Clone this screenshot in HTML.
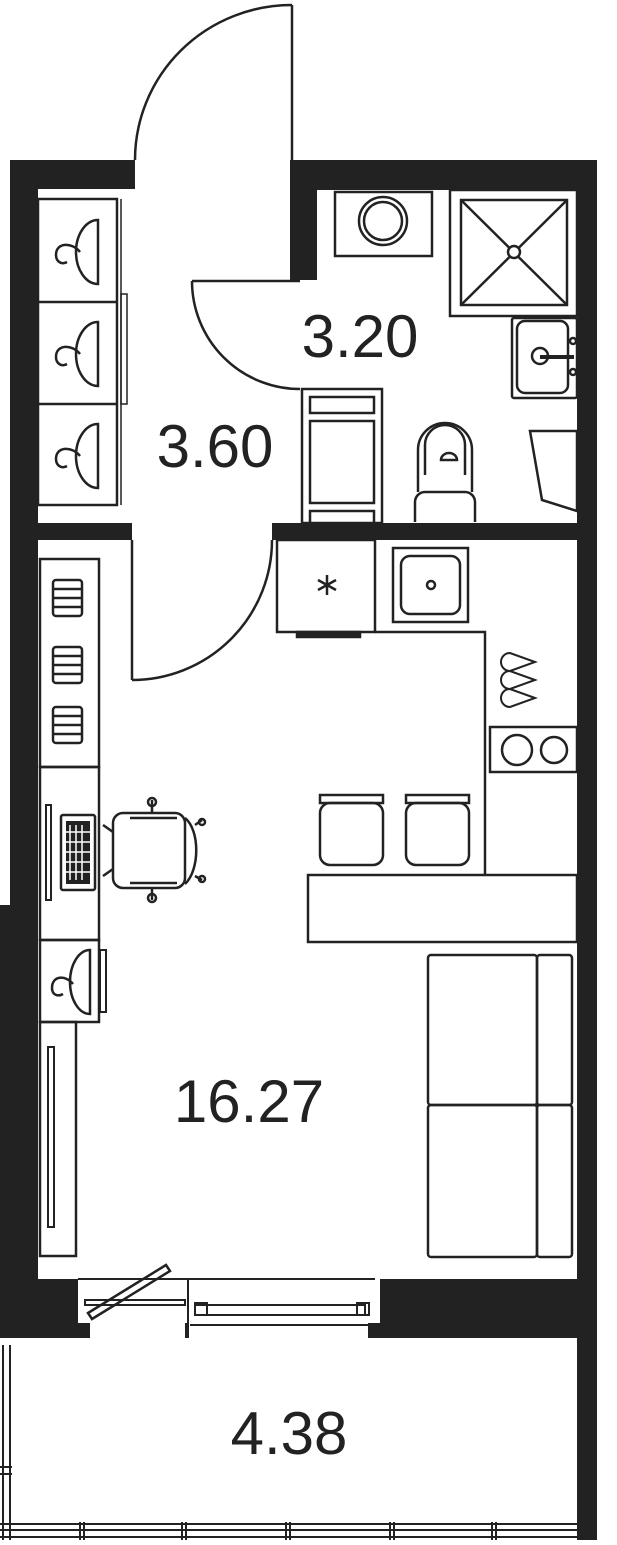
<!DOCTYPE html>
<html><head><meta charset="utf-8"><style>html,body{margin:0;padding:0;background:#fff}svg{display:block}</style></head>
<body>
<svg width="617" height="1545" viewBox="0 0 617 1545" xmlns="http://www.w3.org/2000/svg">
<g fill="#222" stroke="none">
<rect x="10" y="160" width="28" height="745"/>
<rect x="0" y="905" width="38" height="433"/>
<rect x="10" y="160" width="125" height="29"/>
<rect x="290" y="160" width="307" height="30"/>
<rect x="577" y="160" width="20" height="1380"/>
<rect x="290" y="160" width="27" height="120"/>
<rect x="38" y="523" width="94" height="17"/>
<rect x="272" y="523" width="305" height="17"/>
<rect x="0" y="1279" width="597" height="59"/>
</g>
<rect x="78" y="1279" width="110" height="44" fill="#fff"/>
<rect x="188" y="1279" width="192" height="44" fill="#fff"/>
<rect x="90" y="1322" width="95" height="16" fill="#fff"/>
<rect x="188" y="1322" width="180" height="16" fill="#fff"/>
<g fill="none" stroke="#222" stroke-width="3">
<line x1="78" y1="1279" x2="375" y2="1279" stroke-width="2"/>
<line x1="188" y1="1279" x2="188" y2="1338" stroke-width="2"/>
<rect x="85" y="1300" width="100" height="5" stroke-width="2"/>
<polygon points="88,1313 166,1265 170,1271 92,1319" stroke-width="2.5"/>
<rect x="195" y="1305" width="170" height="10" stroke-width="2"/>
<rect x="195" y="1303" width="12" height="12" stroke-width="2"/>
<rect x="357" y="1303" width="12" height="12" stroke-width="2"/>
<line x1="190" y1="1325" x2="368" y2="1325" stroke-width="2"/>
</g>
<g fill="none" stroke="#222" stroke-width="2">
<line x1="3" y1="1345" x2="3" y2="1540"/>
<line x1="10" y1="1345" x2="10" y2="1540"/>
<line x1="0" y1="1467" x2="12" y2="1467"/>
<line x1="0" y1="1474" x2="12" y2="1474"/>
<line x1="0" y1="1524" x2="592" y2="1524"/>
<line x1="0" y1="1530" x2="592" y2="1530"/>
<line x1="0" y1="1537" x2="592" y2="1537"/>
<line x1="592" y1="1338" x2="592" y2="1540"/>
<line x1="80" y1="1522" x2="80" y2="1540"/><line x1="84" y1="1522" x2="84" y2="1540"/>
<line x1="182" y1="1522" x2="182" y2="1540"/><line x1="186" y1="1522" x2="186" y2="1540"/>
<line x1="286" y1="1522" x2="286" y2="1540"/><line x1="290" y1="1522" x2="290" y2="1540"/>
<line x1="390" y1="1522" x2="390" y2="1540"/><line x1="394" y1="1522" x2="394" y2="1540"/>
<line x1="492" y1="1522" x2="492" y2="1540"/><line x1="496" y1="1522" x2="496" y2="1540"/>
</g>
<g fill="none" stroke="#222" stroke-width="2.5">
<line x1="292" y1="5" x2="292" y2="160"/>
<path d="M135,160 A157,155 0 0 1 292,5"/>
<line x1="192" y1="281" x2="300" y2="281"/>
<path d="M192,281 A108,108 0 0 0 300,389"/>
<line x1="132" y1="540" x2="132" y2="680"/>
<path d="M272,540 A140,140 0 0 1 132,680"/>
<rect x="38" y="199" width="79" height="306"/>
<line x1="38" y1="302" x2="117" y2="302"/>
<line x1="38" y1="404" x2="117" y2="404"/>
<line x1="121" y1="199" x2="121" y2="505" stroke-width="1.5"/>
<rect x="121" y="294" width="6" height="110" stroke-width="1.5"/>
<path d="M98,220 A22,32 0 0 0 98,284 Z"/>
<path d="M98,322 A22,32 0 0 0 98,386 Z"/>
<path d="M98,424 A22,32 0 0 0 98,488 Z"/>
<path d="M80,252 C72,242 56,242 56,255 C56,262 62,265 67,262"/>
<path d="M80,354 C72,344 56,344 56,357 C56,364 62,367 67,364"/>
<path d="M80,456 C72,446 56,446 56,459 C56,466 62,469 67,466"/>
<rect x="335" y="192" width="97" height="64"/>
<circle cx="383" cy="221" r="24"/>
<circle cx="383" cy="221" r="19"/>
<rect x="450" y="190" width="127" height="126"/>
<rect x="461" y="200" width="106" height="105"/>
<line x1="461" y1="200" x2="567" y2="305"/>
<line x1="567" y1="200" x2="461" y2="305"/>
<circle cx="514" cy="252" r="6" fill="#fff"/>
<rect x="512" y="318" width="65" height="80" rx="2"/>
<rect x="517" y="321" width="51" height="72" rx="8"/>
<circle cx="540" cy="356" r="8"/>
<line x1="540" y1="357" x2="574" y2="357" stroke-width="4"/>
<circle cx="573" cy="341" r="3"/>
<circle cx="573" cy="372" r="3"/>
<rect x="302" y="389" width="80" height="134"/>
<rect x="310" y="397" width="64" height="16"/>
<rect x="310" y="421" width="64" height="82"/>
<rect x="310" y="511" width="64" height="15"/>
<path d="M418,492 V450 A27,27 0 0 1 472,450 V492"/>
<path d="M425,475 V445 A20,20 0 0 1 465,445 V475"/>
<path d="M415,522 V502 A10,10 0 0 1 425,492 H465 A10,10 0 0 1 475,502 V522"/>
<path d="M441,460 A8,7 0 0 1 457,460 H441 Z"/>
<polygon points="530,431 577,431 577,511 542,500"/>
<rect x="277" y="540" width="98" height="92"/>
<rect x="297" y="632" width="63" height="5" fill="#222"/>
<rect x="393" y="548" width="75" height="74"/>
<rect x="401" y="556" width="59" height="58" rx="9"/>
<circle cx="431" cy="585" r="4"/>
<polyline points="375,632 485,632 485,875"/>
<rect x="490" y="727" width="87" height="45"/>
<circle cx="517" cy="750" r="15"/>
<circle cx="554" cy="750" r="13"/>
<path d="M535,662 L510,653 A6,6 0 0 0 510,671 Z" stroke-width="2"/>
<path d="M535,680 L510,671 A6,6 0 0 0 510,689 Z" stroke-width="2"/>
<path d="M535,698 L510,689 A6,6 0 0 0 510,707 Z" stroke-width="2"/>
<rect x="308" y="875" width="269" height="67"/>
<rect x="320" y="795" width="63" height="8"/>
<rect x="320" y="803" width="63" height="62" rx="10"/>
<rect x="406" y="795" width="63" height="8"/>
<rect x="406" y="803" width="63" height="62" rx="10"/>
<rect x="428" y="955" width="109" height="150" rx="3"/>
<rect x="537" y="955" width="35" height="150" rx="3"/>
<rect x="428" y="1105" width="109" height="152" rx="3"/>
<rect x="537" y="1105" width="35" height="152" rx="3"/>
<rect x="40" y="559" width="59" height="208"/>
<rect x="40" y="767" width="59" height="173"/>
<rect x="40" y="940" width="59" height="82"/>
<rect x="100" y="950" width="6" height="62" stroke-width="2"/>
<path d="M90,950 A20,32 0 0 0 90,1014 Z"/>
<path d="M73,984 C66,975 52,975 52,988 C52,995 58,997 63,994"/>
<rect x="40" y="1022" width="36" height="234"/>
<rect x="48" y="1047" width="6" height="180" stroke-width="2"/>
<rect x="46" y="805" width="5" height="95" stroke-width="2"/>
<rect x="61" y="815" width="34" height="75" rx="2"/>
<rect x="66" y="821" width="24" height="63" fill="#222" stroke="none"/>
<rect x="113" y="813" width="72" height="75" rx="10"/>
<path d="M185,818 C200,830 200,870 185,884"/>
<line x1="130" y1="818" x2="177" y2="818"/>
<line x1="130" y1="883" x2="177" y2="883"/>
<line x1="152" y1="800" x2="152" y2="813"/><circle cx="152" cy="802" r="4"/>
<line x1="152" y1="888" x2="152" y2="900"/><circle cx="152" cy="898" r="4"/>
<line x1="103" y1="825" x2="113" y2="832"/>
<line x1="103" y1="876" x2="113" y2="869"/>
<line x1="195" y1="825" x2="202" y2="820"/><circle cx="202" cy="822" r="3"/>
<line x1="195" y1="876" x2="202" y2="880"/><circle cx="202" cy="879" r="3"/>
<!-- asterisk -->
<line x1="327" y1="575" x2="327" y2="595"/>
<line x1="318" y1="580" x2="336" y2="590"/>
<line x1="318" y1="590" x2="336" y2="580"/>
</g>
<g stroke="#fff" stroke-width="1.5">
<line x1="70" y1="825" x2="70" y2="880"/><line x1="76" y1="825" x2="76" y2="880"/><line x1="82" y1="825" x2="82" y2="880"/>
<line x1="66" y1="832" x2="90" y2="832"/><line x1="66" y1="842" x2="90" y2="842"/><line x1="66" y1="852" x2="90" y2="852"/><line x1="66" y1="862" x2="90" y2="862"/><line x1="66" y1="872" x2="90" y2="872"/>
</g>
<g fill="none" stroke="#222" stroke-width="2.5">
<rect x="53" y="580" width="29" height="36" rx="3"/>
<line x1="53" y1="589" x2="82" y2="589"/><line x1="53" y1="598" x2="82" y2="598"/><line x1="53" y1="607" x2="82" y2="607"/>
<rect x="53" y="647" width="29" height="36" rx="3"/>
<line x1="53" y1="656" x2="82" y2="656"/><line x1="53" y1="665" x2="82" y2="665"/><line x1="53" y1="674" x2="82" y2="674"/>
<rect x="53" y="707" width="29" height="36" rx="3"/>
<line x1="53" y1="716" x2="82" y2="716"/><line x1="53" y1="725" x2="82" y2="725"/><line x1="53" y1="734" x2="82" y2="734"/>
</g>
<g font-family="Liberation Sans, sans-serif" fill="#222" text-anchor="middle" font-size="60">
<text x="360" y="357">3.20</text>
<text x="215" y="467">3.60</text>
<text x="249" y="1122">16.27</text>
<text x="289" y="1454">4.38</text>
</g>
</svg>
</body></html>
